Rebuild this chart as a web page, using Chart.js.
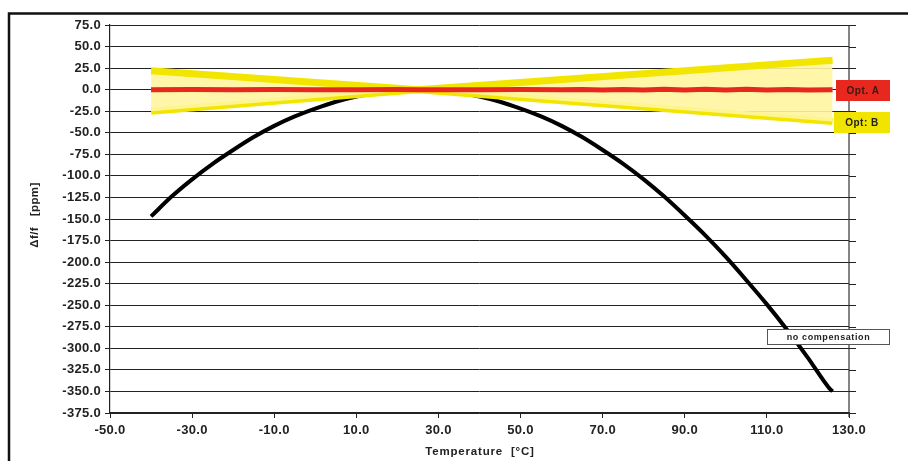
<!DOCTYPE html>
<html>
<head>
<meta charset="utf-8">
<script src="https://cdn.jsdelivr.net/npm/chart.js@4.4.1/dist/chart.umd.min.js"></script>
<style>
html,body{margin:0;padding:0;background:#fff;}
#wrap{width:908px;height:461px;position:relative;}
</style>
</head>
<body>
<div id="wrap"><canvas id="c" width="908" height="461"></canvas></div>
<script>
// Temperature axis (°C) and readings (ppm)
const curveTemps = [-40,-35,-30,-25,-20,-15,-10,-5,0,5,10,15,20,25,30,35,40,45,50,55,60,65,70,75,80,85,90,95,100,105,110,115,120,125,126];
const noCompValues = [-147,-124,-104,-86,-70,-55,-42,-31,-22,-14,-8,-3.5,-1,0,-1,-3.5,-8,-14,-22,-31,-42,-55,-70,-86,-104,-124,-146,-169,-194,-221,-249,-279,-311,-345,-350];

const optBTemps = [-40, 25, 126];
const optBUpper = [22, 0, 34];
const optBLower = [-25, 0, -37];

const optATemps = [-40,-30,-20,-10,0,10,20,25,30,40,50,60,65,70,75,80,85,90,95,100,105,110,115,120,126];
const optAValues = [0,0.1,0,0.1,0,0,0.1,0,0,-0.1,0.2,-0.2,0.3,-0.3,0.3,-0.3,0.4,-0.4,0.4,-0.4,0.4,-0.4,0.3,-0.3,0];

const xTicks = [-50,-30,-10,10,30,50,70,90,110,130];
const yMin = -375, yMax = 75, yStep = 25;

const labels = [
  {text:'Opt. A', x:836, y:80, w:54, h:21, bg:'#e8271e', border:null, color:'#3a1a10'},
  {text:'Opt: B', x:834, y:112, w:56, h:21, bg:'#f0e400', border:null, color:'#222'},
  {text:'no compensation', x:767, y:329, w:123, h:16, bg:'#ffffff', border:'#555', color:'#222'}
];

const pts = (xs, ys) => xs.map((x,i)=>({x:x, y:ys[i]}));

const spacingPlugin = {
  id:'spacing',
  beforeDraw(chart){ if (chart.ctx.letterSpacing !== undefined) chart.ctx.letterSpacing = '0.3px'; }
};

const framePlugin = {
  id:'frame',
  afterDraw(chart){
    const ctx = chart.ctx;
    const a = chart.chartArea;
    ctx.save();
    // outer frame
    ctx.strokeStyle = '#111';
    ctx.lineWidth = 2.5;
    ctx.beginPath();
    ctx.moveTo(9, 470); ctx.lineTo(9, 13.5); ctx.lineTo(908, 13.5);
    ctx.stroke();
    // right vertical axis line
    ctx.lineWidth = 1.2;
    ctx.strokeStyle = '#333';
    ctx.beginPath();
    ctx.moveTo(a.right, a.top); ctx.lineTo(a.right, a.bottom + 4);
    ctx.stroke();
    // grid stubs past right edge
    const ys = chart.scales.y;
    ctx.strokeStyle = '#222';
    ctx.lineWidth = 1;
    for (let v = yMin; v <= yMax; v += yStep){
      const py = Math.round(ys.getPixelForValue(v)) + 0.5;
      ctx.beginPath(); ctx.moveTo(a.right, py); ctx.lineTo(a.right + 7, py); ctx.stroke();
    }
    // label boxes
    labels.forEach(l=>{
      ctx.fillStyle = l.bg;
      ctx.fillRect(l.x, l.y, l.w, l.h);
      if (l.border){ ctx.strokeStyle = l.border; ctx.lineWidth = 1; ctx.strokeRect(l.x+0.5, l.y+0.5, l.w-1, l.h-1); }
      ctx.fillStyle = l.color;
      ctx.font = (l.text.length > 8 ? 'bold 9px' : 'bold 10px') + ' "Liberation Sans", Arial, sans-serif';
      ctx.textBaseline = 'middle';
      ctx.textAlign = 'center';
      if (ctx.letterSpacing !== undefined) ctx.letterSpacing = l.text.length > 8 ? '0.6px' : '0.5px';
      ctx.fillText(l.text, l.x + l.w/2, l.y + l.h/2 + 0.5);
    });
    // axis titles
    ctx.fillStyle = '#222';
    ctx.font = 'bold 11.5px "Liberation Sans", Arial, sans-serif';
    ctx.textAlign = 'center';
    ctx.textBaseline = 'middle';
    if (ctx.letterSpacing !== undefined) ctx.letterSpacing = '0.8px';
    ctx.fillText('Temperature  [°C]', 480, 452);
    ctx.translate(35, 215);
    ctx.rotate(-Math.PI/2);
    if (ctx.letterSpacing !== undefined) ctx.letterSpacing = '0.4px';
    ctx.fillText('Δf/f   [ppm]', 0, 0);
    ctx.restore();
  }
};

new Chart(document.getElementById('c'), {
  type:'line',
  data:{
    datasets:[
      {label:'Opt. A', data:pts(optATemps, optAValues), borderColor:'#e8271e', borderWidth:5, pointRadius:0, fill:false, tension:0, order:1},
      {label:'Opt: B upper', data:pts(optBTemps, optBUpper), borderColor:'#f2e600', borderWidth:7, pointRadius:0, fill:'+1', backgroundColor:'rgba(255,245,160,0.9)', tension:0, order:2},
      {label:'Opt: B lower', data:pts(optBTemps, optBLower), borderColor:'#f2e600', borderWidth:7, pointRadius:0, fill:false, tension:0, order:3},
      {label:'no compensation', data:pts(curveTemps, noCompValues), borderColor:'#000', borderWidth:4, pointRadius:0, fill:false, tension:0.4, cubicInterpolationMode:'monotone', order:4}
    ]
  },
  options:{
    responsive:false,
    animation:false,
    devicePixelRatio:1,
    layout:{padding:{top:25, right:59, left:0, bottom:0}},
    plugins:{legend:{display:false}, tooltip:{enabled:false}, title:{display:false}},
    scales:{
      x:{
        type:'linear', min:-50, max:130,
        afterBuildTicks(s){ s.ticks = xTicks.map(v=>({value:v})); },
        afterFit(s){ s.height = 48; },
        grid:{drawOnChartArea:false, drawTicks:true, tickLength:5, color:'#222', lineWidth:1},
        border:{display:true, color:'#222', width:1.2},
        ticks:{color:'#222', padding:5, maxRotation:0, autoSkip:false, font:{family:'"Liberation Sans", Arial, sans-serif', size:13, weight:'bold'}, callback:v=>Number(v).toFixed(1)}
      },
      y:{
        type:'linear', min:yMin, max:yMax,
        ticks:{stepSize:yStep, color:'#222', padding:4, autoSkip:false, font:{family:'"Liberation Sans", Arial, sans-serif', size:13, weight:'bold'}, callback:v=>Number(v).toFixed(1)},
        afterFit(s){ s.width = 110; },
        grid:{color:'#222', lineWidth:1, tickLength:5, drawTicks:true},
        border:{display:true, color:'#222', width:1.2}
      }
    }
  },
  plugins:[spacingPlugin, framePlugin]
});
</script>
</body>
</html>
